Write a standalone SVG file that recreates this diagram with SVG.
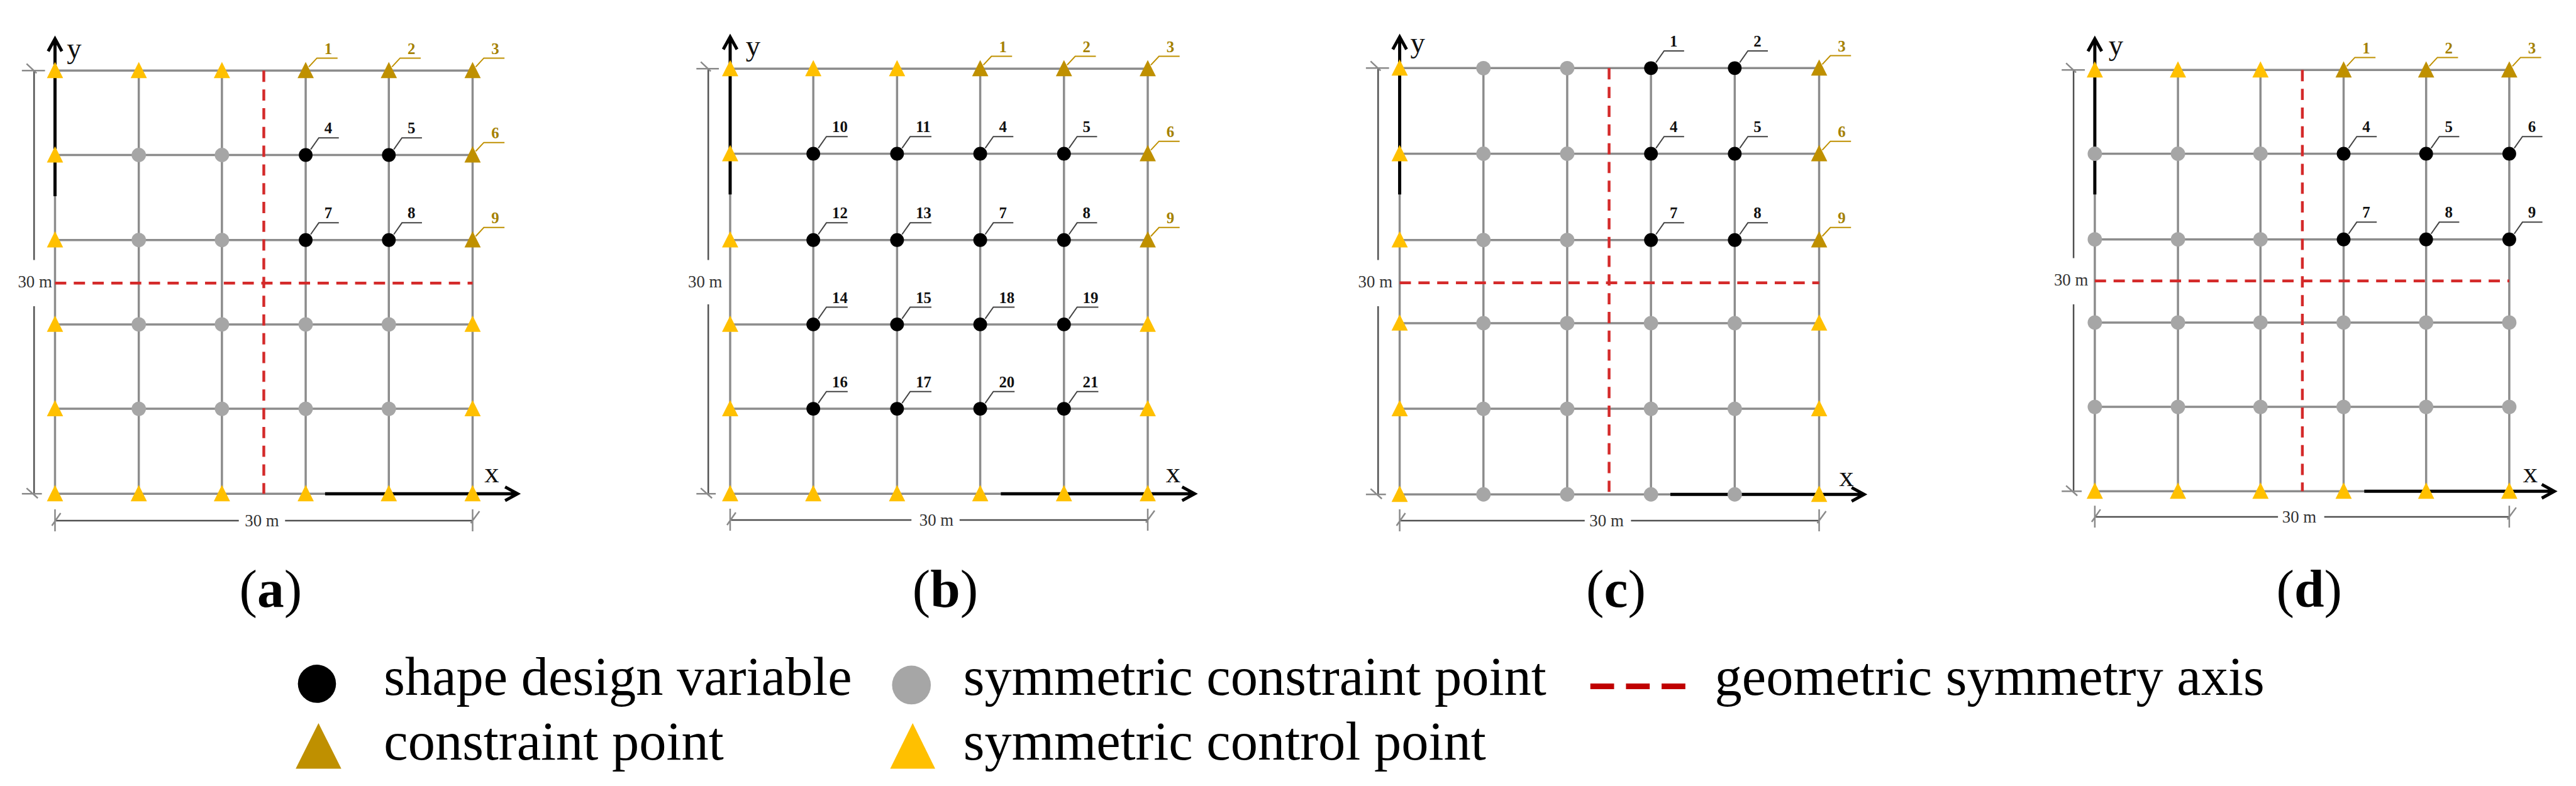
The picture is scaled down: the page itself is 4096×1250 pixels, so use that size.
<svg xmlns="http://www.w3.org/2000/svg" xmlns:xlink="http://www.w3.org/1999/xlink" width="4096" height="1250" viewBox="0 0 4096 1250">
<style>
.grid{stroke:#8c8c8c;stroke-width:3.5;fill:none}
.ax{stroke:#000;stroke-width:5;fill:none}
.sym{stroke:#D42A2A;stroke-width:4.5;stroke-dasharray:18 12;fill:none}
.dim{stroke:#505050;stroke-width:2.5;fill:none}
.ext{stroke:#8a8a8a;stroke-width:2.5;fill:none}
.lb{font-family:"Liberation Serif",serif;font-weight:bold;font-size:25px}
.lk{fill:#111}
.lg{fill:#A58100}
.ldk{stroke:#444;stroke-width:2;fill:none}
.ldg{stroke:#BF9000;stroke-width:2;fill:none}
.axl{font-family:"Liberation Serif",serif;font-size:47px;fill:#111}
.dt{font-family:"Liberation Serif",serif;font-size:27px;fill:#333;text-anchor:middle}
.cap{font-family:"Liberation Serif",serif;font-size:86px;text-anchor:middle;fill:#000}
.leg{font-family:"Liberation Serif",serif;font-size:87px;fill:#000}
</style>
<defs>
<circle id="bc" r="11" fill="#000"/>
<circle id="gc" r="11.5" fill="#A6A6A6"/>
<path id="yt" d="M0,-14L13,12L-13,12Z" fill="#FFC000"/>
<path id="dt" d="M0,-14L13,12L-13,12Z" fill="#BF9000"/>
</defs>
<rect width="4096" height="1250" fill="#fff"/>
<g transform="scale(0.994)">

<!-- ===== Panel (a) ===== -->
<g id="panel-a">
<g id="a-connectors">
<path class="grid" d="M88,113H756M88,248H756M88,384H756M88,519H756M88,654H756M88,790H756M88,113V790M222,113V790M355,113V790M489,113V790M622,113V790M756,113V790"/>
<path class="sym" d="M422,113V790M88,453H756"/>
<path class="ax" d="M88,314V66M77,82L88,62L99,82M520,790H824M808,779L828,790L808,801"/>
<path class="dim" d="M54.5,113V416M54.5,490V790M88,833H382M456,833H756"/>
<path class="ext" d="M35,113H72M35,790H67M42.5,102L58.5,117M42.5,781L60.5,797M88,815V850M756,815V850M83,841L97,821M753,837L767,818"/>
</g>
<text class="axl" x="107" y="93">y</text>
<text class="axl" x="775" y="772">x</text>
<text class="dt" x="56" y="460">30 m</text>
<text class="dt" x="419" y="842">30 m</text>
<g id="a-r0c0"><use href="#yt" x="88" y="113"/></g>
<g id="a-r0c1"><use href="#yt" x="222" y="113"/></g>
<g id="a-r0c2"><use href="#yt" x="355" y="113"/></g>
<g id="a-r0c3"><use href="#dt" x="489" y="113"/><path class="ldg" d="M494,107L507,93H540"/><text class="lb lg" x="519" y="86.5">1</text></g>
<g id="a-r0c4"><use href="#dt" x="622" y="113"/><path class="ldg" d="M627,107L640,93H673"/><text class="lb lg" x="652" y="86.5">2</text></g>
<g id="a-r0c5"><use href="#dt" x="756" y="113"/><path class="ldg" d="M761,107L774,93H807"/><text class="lb lg" x="786" y="86.5">3</text></g>
<g id="a-r1c0"><use href="#yt" x="88" y="248"/></g>
<g id="a-r1c1"><use href="#gc" x="222" y="248"/></g>
<g id="a-r1c2"><use href="#gc" x="355" y="248"/></g>
<g id="a-r1c3"><use href="#bc" x="489" y="248"/><path class="ldk" d="M497,239L510,220.5H542"/><text class="lb lk" x="519" y="213.5">4</text></g>
<g id="a-r1c4"><use href="#bc" x="622" y="248"/><path class="ldk" d="M630,239L643,220.5H675"/><text class="lb lk" x="652" y="213.5">5</text></g>
<g id="a-r1c5"><use href="#dt" x="756" y="248"/><path class="ldg" d="M761,242L774,228H807"/><text class="lb lg" x="786" y="221.5">6</text></g>
<g id="a-r2c0"><use href="#yt" x="88" y="384"/></g>
<g id="a-r2c1"><use href="#gc" x="222" y="384"/></g>
<g id="a-r2c2"><use href="#gc" x="355" y="384"/></g>
<g id="a-r2c3"><use href="#bc" x="489" y="384"/><path class="ldk" d="M497,375L510,356.5H542"/><text class="lb lk" x="519" y="349.5">7</text></g>
<g id="a-r2c4"><use href="#bc" x="622" y="384"/><path class="ldk" d="M630,375L643,356.5H675"/><text class="lb lk" x="652" y="349.5">8</text></g>
<g id="a-r2c5"><use href="#dt" x="756" y="384"/><path class="ldg" d="M761,378L774,364H807"/><text class="lb lg" x="786" y="357.5">9</text></g>
<g id="a-r3c0"><use href="#yt" x="88" y="519"/></g>
<g id="a-r3c1"><use href="#gc" x="222" y="519"/></g>
<g id="a-r3c2"><use href="#gc" x="355" y="519"/></g>
<g id="a-r3c3"><use href="#gc" x="489" y="519"/></g>
<g id="a-r3c4"><use href="#gc" x="622" y="519"/></g>
<g id="a-r3c5"><use href="#yt" x="756" y="519"/></g>
<g id="a-r4c0"><use href="#yt" x="88" y="654"/></g>
<g id="a-r4c1"><use href="#gc" x="222" y="654"/></g>
<g id="a-r4c2"><use href="#gc" x="355" y="654"/></g>
<g id="a-r4c3"><use href="#gc" x="489" y="654"/></g>
<g id="a-r4c4"><use href="#gc" x="622" y="654"/></g>
<g id="a-r4c5"><use href="#yt" x="756" y="654"/></g>
<g id="a-r5c0"><use href="#yt" x="88" y="790"/></g>
<g id="a-r5c1"><use href="#yt" x="222" y="790"/></g>
<g id="a-r5c2"><use href="#yt" x="355" y="790"/></g>
<g id="a-r5c3"><use href="#yt" x="489" y="790"/></g>
<g id="a-r5c4"><use href="#yt" x="622" y="790"/></g>
<g id="a-r5c5"><use href="#yt" x="756" y="790"/></g>
<text class="cap" x="433" y="971">(<tspan font-weight="bold">a</tspan>)</text>
</g>

<!-- ===== Panel (b) ===== -->
<g id="panel-b">
<g id="b-connectors">
<path class="grid" d="M1168,110H1836M1168,246H1836M1168,384H1836M1168,519H1836M1168,654H1836M1168,790H1836M1168,110V790M1301,110V790M1435,110V790M1568,110V790M1702,110V790M1836,110V790"/>
<path class="ax" d="M1168,311V63M1157,79L1168,59L1179,79M1601,790H1907M1891,779L1911,790L1891,801"/>
<path class="dim" d="M1133,110V416M1133,487V790M1168,832H1458M1535,832H1836"/>
<path class="ext" d="M1114,110H1150M1114,790H1145M1121,99L1137,114M1121,781L1139,797M1168,814V849M1836,814V849M1163,840L1177,820M1833,836L1847,817"/>
</g>
<text class="axl" x="1193" y="89">y</text>
<text class="axl" x="1865" y="772">x</text>
<text class="dt" x="1128" y="460">30 m</text>
<text class="dt" x="1498" y="841">30 m</text>
<g id="b-r0c0"><use href="#yt" x="1168" y="110"/></g>
<g id="b-r0c1"><use href="#yt" x="1301" y="110"/></g>
<g id="b-r0c2"><use href="#yt" x="1435" y="110"/></g>
<g id="b-r0c3"><use href="#dt" x="1568" y="110"/><path class="ldg" d="M1573,104L1586,90H1619"/><text class="lb lg" x="1598" y="83.5">1</text></g>
<g id="b-r0c4"><use href="#dt" x="1702" y="110"/><path class="ldg" d="M1707,104L1720,90H1753"/><text class="lb lg" x="1732" y="83.5">2</text></g>
<g id="b-r0c5"><use href="#dt" x="1836" y="110"/><path class="ldg" d="M1841,104L1854,90H1887"/><text class="lb lg" x="1866" y="83.5">3</text></g>
<g id="b-r1c0"><use href="#yt" x="1168" y="246"/></g>
<g id="b-r1c1"><use href="#bc" x="1301" y="246"/><path class="ldk" d="M1309,237L1322,218.5H1356"/><text class="lb lk" x="1331" y="211.5">10</text></g>
<g id="b-r1c2"><use href="#bc" x="1435" y="246"/><path class="ldk" d="M1443,237L1456,218.5H1490"/><text class="lb lk" x="1465" y="211.5">11</text></g>
<g id="b-r1c3"><use href="#bc" x="1568" y="246"/><path class="ldk" d="M1576,237L1589,218.5H1621"/><text class="lb lk" x="1598" y="211.5">4</text></g>
<g id="b-r1c4"><use href="#bc" x="1702" y="246"/><path class="ldk" d="M1710,237L1723,218.5H1755"/><text class="lb lk" x="1732" y="211.5">5</text></g>
<g id="b-r1c5"><use href="#dt" x="1836" y="246"/><path class="ldg" d="M1841,240L1854,226H1887"/><text class="lb lg" x="1866" y="219.5">6</text></g>
<g id="b-r2c0"><use href="#yt" x="1168" y="384"/></g>
<g id="b-r2c1"><use href="#bc" x="1301" y="384"/><path class="ldk" d="M1309,375L1322,356.5H1356"/><text class="lb lk" x="1331" y="349.5">12</text></g>
<g id="b-r2c2"><use href="#bc" x="1435" y="384"/><path class="ldk" d="M1443,375L1456,356.5H1490"/><text class="lb lk" x="1465" y="349.5">13</text></g>
<g id="b-r2c3"><use href="#bc" x="1568" y="384"/><path class="ldk" d="M1576,375L1589,356.5H1621"/><text class="lb lk" x="1598" y="349.5">7</text></g>
<g id="b-r2c4"><use href="#bc" x="1702" y="384"/><path class="ldk" d="M1710,375L1723,356.5H1755"/><text class="lb lk" x="1732" y="349.5">8</text></g>
<g id="b-r2c5"><use href="#dt" x="1836" y="384"/><path class="ldg" d="M1841,378L1854,364H1887"/><text class="lb lg" x="1866" y="357.5">9</text></g>
<g id="b-r3c0"><use href="#yt" x="1168" y="519"/></g>
<g id="b-r3c1"><use href="#bc" x="1301" y="519"/><path class="ldk" d="M1309,510L1322,491.5H1356"/><text class="lb lk" x="1331" y="484.5">14</text></g>
<g id="b-r3c2"><use href="#bc" x="1435" y="519"/><path class="ldk" d="M1443,510L1456,491.5H1490"/><text class="lb lk" x="1465" y="484.5">15</text></g>
<g id="b-r3c3"><use href="#bc" x="1568" y="519"/><path class="ldk" d="M1576,510L1589,491.5H1623"/><text class="lb lk" x="1598" y="484.5">18</text></g>
<g id="b-r3c4"><use href="#bc" x="1702" y="519"/><path class="ldk" d="M1710,510L1723,491.5H1757"/><text class="lb lk" x="1732" y="484.5">19</text></g>
<g id="b-r3c5"><use href="#yt" x="1836" y="519"/></g>
<g id="b-r4c0"><use href="#yt" x="1168" y="654"/></g>
<g id="b-r4c1"><use href="#bc" x="1301" y="654"/><path class="ldk" d="M1309,645L1322,626.5H1356"/><text class="lb lk" x="1331" y="619.5">16</text></g>
<g id="b-r4c2"><use href="#bc" x="1435" y="654"/><path class="ldk" d="M1443,645L1456,626.5H1490"/><text class="lb lk" x="1465" y="619.5">17</text></g>
<g id="b-r4c3"><use href="#bc" x="1568" y="654"/><path class="ldk" d="M1576,645L1589,626.5H1623"/><text class="lb lk" x="1598" y="619.5">20</text></g>
<g id="b-r4c4"><use href="#bc" x="1702" y="654"/><path class="ldk" d="M1710,645L1723,626.5H1757"/><text class="lb lk" x="1732" y="619.5">21</text></g>
<g id="b-r4c5"><use href="#yt" x="1836" y="654"/></g>
<g id="b-r5c0"><use href="#yt" x="1168" y="790"/></g>
<g id="b-r5c1"><use href="#yt" x="1301" y="790"/></g>
<g id="b-r5c2"><use href="#yt" x="1435" y="790"/></g>
<g id="b-r5c3"><use href="#yt" x="1568" y="790"/></g>
<g id="b-r5c4"><use href="#yt" x="1702" y="790"/></g>
<g id="b-r5c5"><use href="#yt" x="1836" y="790"/></g>
<text class="cap" x="1512" y="971">(<tspan font-weight="bold">b</tspan>)</text>
</g>

<!-- ===== Panel (c) ===== -->
<g id="panel-c">
<g id="c-connectors">
<path class="grid" d="M2239,109H2910M2239,246H2910M2239,384H2910M2239,517H2910M2239,654H2910M2239,791H2910M2239,109V791M2373,109V791M2507,109V791M2641,109V791M2775,109V791M2910,109V791"/>
<path class="sym" d="M2574,109V791M2239,452.5H2910"/>
<path class="ax" d="M2239,311V63M2228,79L2239,59L2250,79M2672,791H2978M2962,780L2982,791L2962,802"/>
<path class="dim" d="M2204.5,109V416M2204.5,490V791M2239,833H2535M2609,833H2910"/>
<path class="ext" d="M2185,109H2222M2185,791H2217M2192.5,98L2208.5,113M2192.5,782L2210.5,798M2239,815V850M2910,815V850M2234,841L2248,821M2907,837L2921,818"/>
</g>
<text class="axl" x="2256" y="84">y</text>
<text class="axl" x="2942" y="778">x</text>
<text class="dt" x="2200" y="460">30 m</text>
<text class="dt" x="2570" y="842">30 m</text>
<g id="c-r0c0"><use href="#yt" x="2239" y="109"/></g>
<g id="c-r0c1"><use href="#gc" x="2373" y="109"/></g>
<g id="c-r0c2"><use href="#gc" x="2507" y="109"/></g>
<g id="c-r0c3"><use href="#bc" x="2641" y="109"/><path class="ldk" d="M2649,100L2662,81.5H2694"/><text class="lb lk" x="2671" y="74.5">1</text></g>
<g id="c-r0c4"><use href="#bc" x="2775" y="109"/><path class="ldk" d="M2783,100L2796,81.5H2828"/><text class="lb lk" x="2805" y="74.5">2</text></g>
<g id="c-r0c5"><use href="#dt" x="2910" y="109"/><path class="ldg" d="M2915,103L2928,89H2961"/><text class="lb lg" x="2940" y="82.5">3</text></g>
<g id="c-r1c0"><use href="#yt" x="2239" y="246"/></g>
<g id="c-r1c1"><use href="#gc" x="2373" y="246"/></g>
<g id="c-r1c2"><use href="#gc" x="2507" y="246"/></g>
<g id="c-r1c3"><use href="#bc" x="2641" y="246"/><path class="ldk" d="M2649,237L2662,218.5H2694"/><text class="lb lk" x="2671" y="211.5">4</text></g>
<g id="c-r1c4"><use href="#bc" x="2775" y="246"/><path class="ldk" d="M2783,237L2796,218.5H2828"/><text class="lb lk" x="2805" y="211.5">5</text></g>
<g id="c-r1c5"><use href="#dt" x="2910" y="246"/><path class="ldg" d="M2915,240L2928,226H2961"/><text class="lb lg" x="2940" y="219.5">6</text></g>
<g id="c-r2c0"><use href="#yt" x="2239" y="384"/></g>
<g id="c-r2c1"><use href="#gc" x="2373" y="384"/></g>
<g id="c-r2c2"><use href="#gc" x="2507" y="384"/></g>
<g id="c-r2c3"><use href="#bc" x="2641" y="384"/><path class="ldk" d="M2649,375L2662,356.5H2694"/><text class="lb lk" x="2671" y="349.5">7</text></g>
<g id="c-r2c4"><use href="#bc" x="2775" y="384"/><path class="ldk" d="M2783,375L2796,356.5H2828"/><text class="lb lk" x="2805" y="349.5">8</text></g>
<g id="c-r2c5"><use href="#dt" x="2910" y="384"/><path class="ldg" d="M2915,378L2928,364H2961"/><text class="lb lg" x="2940" y="357.5">9</text></g>
<g id="c-r3c0"><use href="#yt" x="2239" y="517"/></g>
<g id="c-r3c1"><use href="#gc" x="2373" y="517"/></g>
<g id="c-r3c2"><use href="#gc" x="2507" y="517"/></g>
<g id="c-r3c3"><use href="#gc" x="2641" y="517"/></g>
<g id="c-r3c4"><use href="#gc" x="2775" y="517"/></g>
<g id="c-r3c5"><use href="#yt" x="2910" y="517"/></g>
<g id="c-r4c0"><use href="#yt" x="2239" y="654"/></g>
<g id="c-r4c1"><use href="#gc" x="2373" y="654"/></g>
<g id="c-r4c2"><use href="#gc" x="2507" y="654"/></g>
<g id="c-r4c3"><use href="#gc" x="2641" y="654"/></g>
<g id="c-r4c4"><use href="#gc" x="2775" y="654"/></g>
<g id="c-r4c5"><use href="#yt" x="2910" y="654"/></g>
<g id="c-r5c0"><use href="#yt" x="2239" y="791"/></g>
<g id="c-r5c1"><use href="#gc" x="2373" y="791"/></g>
<g id="c-r5c2"><use href="#gc" x="2507" y="791"/></g>
<g id="c-r5c3"><use href="#gc" x="2641" y="791"/></g>
<g id="c-r5c4"><use href="#gc" x="2775" y="791"/></g>
<g id="c-r5c5"><use href="#yt" x="2910" y="791"/></g>
<text class="cap" x="2585" y="971">(<tspan font-weight="bold">c</tspan>)</text>
</g>

<!-- ===== Panel (d) ===== -->
<g id="panel-d">
<g id="d-connectors">
<path class="grid" d="M3351,112H4014M3351,246H4014M3351,383H4014M3351,516H4014M3351,651H4014M3351,786H4014M3351,112V786M3484,112V786M3616,112V786M3749,112V786M3881,112V786M4014,112V786"/>
<path class="sym" d="M3683,112V786M3351,449.5H4014"/>
<path class="ax" d="M3351,311V66M3340,82L3351,62L3362,82M3782,786H4082M4066,775L4086,786L4066,797"/>
<path class="dim" d="M3317,112V413M3317,487V786M3351,827H3644M3718,827H4014"/>
<path class="ext" d="M3298,112H3335M3298,786H3330M3305,101L3321,116M3305,777L3323,793M3351,809V844M4014,809V844M3346,835L3360,815M4011,831L4025,812"/>
</g>
<text class="axl" x="3373" y="88">y</text>
<text class="axl" x="4036" y="772">x</text>
<text class="dt" x="3313" y="457">30 m</text>
<text class="dt" x="3678" y="836">30 m</text>
<g id="d-r0c0"><use href="#yt" x="3351" y="112"/></g>
<g id="d-r0c1"><use href="#yt" x="3484" y="112"/></g>
<g id="d-r0c2"><use href="#yt" x="3616" y="112"/></g>
<g id="d-r0c3"><use href="#dt" x="3749" y="112"/><path class="ldg" d="M3754,106L3767,92H3800"/><text class="lb lg" x="3779" y="85.5">1</text></g>
<g id="d-r0c4"><use href="#dt" x="3881" y="112"/><path class="ldg" d="M3886,106L3899,92H3932"/><text class="lb lg" x="3911" y="85.5">2</text></g>
<g id="d-r0c5"><use href="#dt" x="4014" y="112"/><path class="ldg" d="M4019,106L4032,92H4065"/><text class="lb lg" x="4044" y="85.5">3</text></g>
<g id="d-r1c0"><use href="#gc" x="3351" y="246"/></g>
<g id="d-r1c1"><use href="#gc" x="3484" y="246"/></g>
<g id="d-r1c2"><use href="#gc" x="3616" y="246"/></g>
<g id="d-r1c3"><use href="#bc" x="3749" y="246"/><path class="ldk" d="M3757,237L3770,218.5H3802"/><text class="lb lk" x="3779" y="211.5">4</text></g>
<g id="d-r1c4"><use href="#bc" x="3881" y="246"/><path class="ldk" d="M3889,237L3902,218.5H3934"/><text class="lb lk" x="3911" y="211.5">5</text></g>
<g id="d-r1c5"><use href="#bc" x="4014" y="246"/><path class="ldk" d="M4022,237L4035,218.5H4067"/><text class="lb lk" x="4044" y="211.5">6</text></g>
<g id="d-r2c0"><use href="#gc" x="3351" y="383"/></g>
<g id="d-r2c1"><use href="#gc" x="3484" y="383"/></g>
<g id="d-r2c2"><use href="#gc" x="3616" y="383"/></g>
<g id="d-r2c3"><use href="#bc" x="3749" y="383"/><path class="ldk" d="M3757,374L3770,355.5H3802"/><text class="lb lk" x="3779" y="348.5">7</text></g>
<g id="d-r2c4"><use href="#bc" x="3881" y="383"/><path class="ldk" d="M3889,374L3902,355.5H3934"/><text class="lb lk" x="3911" y="348.5">8</text></g>
<g id="d-r2c5"><use href="#bc" x="4014" y="383"/><path class="ldk" d="M4022,374L4035,355.5H4067"/><text class="lb lk" x="4044" y="348.5">9</text></g>
<g id="d-r3c0"><use href="#gc" x="3351" y="516"/></g>
<g id="d-r3c1"><use href="#gc" x="3484" y="516"/></g>
<g id="d-r3c2"><use href="#gc" x="3616" y="516"/></g>
<g id="d-r3c3"><use href="#gc" x="3749" y="516"/></g>
<g id="d-r3c4"><use href="#gc" x="3881" y="516"/></g>
<g id="d-r3c5"><use href="#gc" x="4014" y="516"/></g>
<g id="d-r4c0"><use href="#gc" x="3351" y="651"/></g>
<g id="d-r4c1"><use href="#gc" x="3484" y="651"/></g>
<g id="d-r4c2"><use href="#gc" x="3616" y="651"/></g>
<g id="d-r4c3"><use href="#gc" x="3749" y="651"/></g>
<g id="d-r4c4"><use href="#gc" x="3881" y="651"/></g>
<g id="d-r4c5"><use href="#gc" x="4014" y="651"/></g>
<g id="d-r5c0"><use href="#yt" x="3351" y="786"/></g>
<g id="d-r5c1"><use href="#yt" x="3484" y="786"/></g>
<g id="d-r5c2"><use href="#yt" x="3616" y="786"/></g>
<g id="d-r5c3"><use href="#yt" x="3749" y="786"/></g>
<g id="d-r5c4"><use href="#yt" x="3881" y="786"/></g>
<g id="d-r5c5"><use href="#yt" x="4014" y="786"/></g>
<text class="cap" x="3694" y="971">(<tspan font-weight="bold">d</tspan>)</text>
</g>

<!-- ===== Legend ===== -->
<g id="legend">
<g id="leg-design"><circle cx="507" cy="1094" r="30.5" fill="#000"/><text class="leg" x="614" y="1112">shape design variable</text></g>
<g id="leg-symcons"><circle cx="1458" cy="1096" r="31" fill="#A6A6A6"/><text class="leg" x="1541" y="1112">symmetric constraint point</text></g>
<g id="leg-axis"><path d="M2544,1098H2697" stroke="#C00000" stroke-width="9" stroke-dasharray="38 19" fill="none"/><text class="leg" x="2743" y="1112">geometric symmetry axis</text></g>
<g id="leg-cons"><path d="M509.5,1157L546,1230H473Z" fill="#BF9000"/><text class="leg" x="614" y="1215">constraint point</text></g>
<g id="leg-symctrl"><path d="M1460,1157L1496,1230H1424Z" fill="#FFC000"/><text class="leg" x="1541" y="1215">symmetric control point</text></g>
</g>
</g>
</svg>
